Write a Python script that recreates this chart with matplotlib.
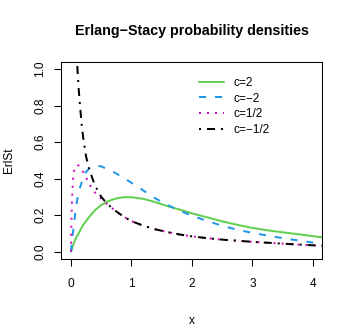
import matplotlib
matplotlib.use("Agg")
import matplotlib.pyplot as plt

plt.rcParams['font.family'] = ['Liberation Sans', 'DejaVu Sans']

# c = 2 (green, solid)
x_c2 = [0, 0.05, 0.1, 0.2, 0.3, 0.4, 0.5, 0.6, 0.7, 0.8, 0.9, 1.0, 1.2, 1.4,
        1.6, 1.8, 2.0, 2.25, 2.5, 2.75, 3.0, 3.25, 3.5, 3.75, 4.0, 4.15]
y_c2 = [0, 0.05, 0.085, 0.145, 0.19, 0.228, 0.255, 0.274, 0.287, 0.295, 0.299,
        0.298, 0.289, 0.271, 0.249, 0.230, 0.210, 0.188, 0.166, 0.147, 0.130,
        0.117, 0.106, 0.096, 0.085, 0.079]

# c = -2 (blue, dashed)
x_cm2 = [0, 0.02, 0.04, 0.06, 0.08, 0.1, 0.15, 0.2, 0.25, 0.3, 0.35, 0.4, 0.45,
         0.5, 0.6, 0.7, 0.8, 0.9, 1.0, 1.2, 1.4, 1.6, 1.8, 2.0, 2.25, 2.5, 2.75,
         3.0, 3.25, 3.5, 3.75, 4.0, 4.15]
y_cm2 = [0, 0.065, 0.125, 0.18, 0.24, 0.28, 0.352, 0.405, 0.437, 0.455, 0.464,
         0.468, 0.469, 0.467, 0.452, 0.437, 0.418, 0.398, 0.377, 0.334, 0.291,
         0.255, 0.224, 0.197, 0.168, 0.142, 0.120, 0.103, 0.088, 0.074, 0.062,
         0.050, 0.045]

# c = 1/2 (magenta, dotted)
x_ch = [0, 0.004, 0.01, 0.02, 0.035, 0.05, 0.07, 0.1, 0.13, 0.17, 0.21, 0.25,
        0.3, 0.35, 0.4, 0.5, 0.6, 0.7, 0.8, 0.9, 1.0, 1.2, 1.4, 1.6, 1.8, 2.0,
        2.25, 2.5, 2.75, 3.0, 3.25, 3.5, 3.75, 4.0, 4.15]
y_ch = [0, 0.1, 0.2, 0.3, 0.4, 0.44, 0.465, 0.474, 0.471, 0.455, 0.432, 0.405,
        0.373, 0.345, 0.322, 0.29, 0.26, 0.233, 0.208, 0.186, 0.167, 0.142,
        0.122, 0.107, 0.094, 0.084, 0.074, 0.066, 0.060, 0.054, 0.049, 0.044,
        0.039, 0.035, 0.033]

# c = -1/2 (black, dot-dash)
x_cmh = [0.097, 0.1, 0.125, 0.15, 0.175, 0.2, 0.25, 0.3, 0.35, 0.4, 0.5, 0.6,
         0.7, 0.8, 0.9, 1.0, 1.2, 1.4, 1.6, 1.8, 2.0, 2.25, 2.5, 2.75, 3.0,
         3.25, 3.5, 3.75, 4.0, 4.15]
y_cmh = [1.06, 1.04, 0.90, 0.80, 0.70, 0.63, 0.52, 0.455, 0.405, 0.36, 0.30,
         0.262, 0.233, 0.208, 0.186, 0.167, 0.142, 0.122, 0.107, 0.094, 0.084,
         0.074, 0.066, 0.060, 0.054, 0.049, 0.044, 0.039, 0.035, 0.033]

labels = ["c=2", "c=\u22122", "c=1/2", "c=\u22121/2"]
colors = ["#61D04F", "#2297E6", "#CD0BBC", "black"]
styles = ["-", (0, (3.5, 4.5)), (0, (1, 3)), (0, (1, 3, 4, 3))]
x_ticks = [0, 1, 2, 3, 4]
y_ticks = [0.0, 0.2, 0.4, 0.6, 0.8, 1.0]

W, H = 354, 336
fig = plt.figure(figsize=(W / 100, H / 100), dpi=100)
ax = fig.add_axes([61.3 / W, 1 - 259 / H, (322 - 61.3) / W, (259 - 61.7) / H])

series = [(x_c2, y_c2), (x_cm2, y_cm2), (x_ch, y_ch), (x_cmh, y_cmh)]
for (xs, ys), lab, col, ls in zip(series, labels, colors, styles):
    ax.plot(xs, ys, color=col, linestyle=ls, linewidth=1.44, label=lab,
            dash_capstyle='butt', solid_capstyle='round')

ax.set_xlim(-0.16, 4.15)
ax.set_ylim(-0.04, 1.04)
ax.set_xticks(x_ticks)
ax.set_xticklabels([str(v) for v in x_ticks])
ax.set_yticks(y_ticks)
ax.set_yticklabels(["%.1f" % v for v in y_ticks], rotation=90, va='center')
ax.tick_params(axis='both', direction='out', length=5, width=0.75,
               labelsize=8.6, colors='black')
ax.tick_params(axis='x', pad=8.5)
ax.tick_params(axis='y', pad=6)
for s in ax.spines.values():
    s.set_linewidth(0.75)

ax.set_title("Erlang\u2212Stacy probability densities", fontsize=10.3,
             fontweight='bold', pad=19)
ax.set_xlabel("x", fontsize=8.6, labelpad=18)
ax.set_ylabel("ErlSt", fontsize=8.6, labelpad=14)

leg = ax.legend(loc='upper left', bbox_to_anchor=(199 / W, 1 - 77 / H),
                bbox_transform=fig.transFigure, frameon=False, fontsize=8.6,
                handlelength=2.1, handletextpad=0.8, labelspacing=0.3,
                borderpad=0, borderaxespad=0)

fig.savefig("out.png", dpi=100)
